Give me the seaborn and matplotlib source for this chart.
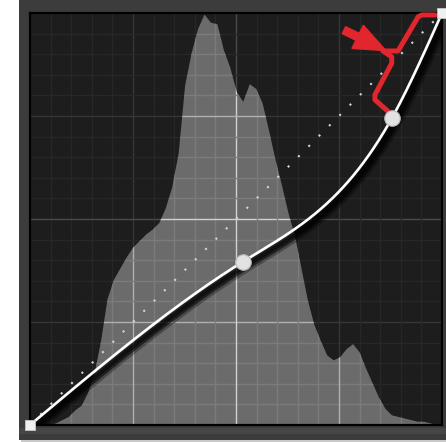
import numpy as np
import matplotlib
matplotlib.use("Agg")
import matplotlib.pyplot as plt
import matplotlib.patches as mpatches
import matplotlib.patheffects as pe
import pandas as pd
import seaborn as sns

sns.set_style("dark")

# Luminance histogram: one height per 4-level bin, scaled to the 0-255 graph height
hist_levels = list(range(0, 256, 4))
hist_heights = [0, 0, 0, 0, 1, 3, 5, 9, 12, 20, 32, 52, 78, 90, 97, 104,
                110, 114, 118, 121, 125, 134, 147, 168, 210, 230, 245, 254, 249, 248, 232, 221,
                206, 200, 211, 208, 199, 182, 164, 148, 131, 117, 97, 77, 62, 52, 43, 40,
                42, 47, 50, 45, 35, 26, 17, 10, 6, 5, 4, 3, 2, 2, 1, 0]

# Curve control points (input -> output)
curve_in = [0, 131.8, 223.9, 255]
curve_out = [0, 101.1, 189.8, 255]

# Red callout bracket and arrow
bracket_x = [221.8, 213.5, 213.5, 223.9, 223.9, 218.5, 227.8, 240.3, 242.6, 250.7]
bracket_y = [193.9, 201.3, 204.4, 223.9, 227.8, 231.5, 231.5, 252.7, 253.8, 253.8]
arrow_tail = (194.3, 244.4)
arrow_tip = (220.3, 231.7)

RED = "#e2262e"
W, H = 446, 442


def natural_spline(x, y, xq):
    x = np.asarray(x, float)
    y = np.asarray(y, float)
    n = len(x)
    h = np.diff(x)
    A = np.zeros((n, n))
    b = np.zeros(n)
    A[0, 0] = A[-1, -1] = 1.0
    for i in range(1, n - 1):
        A[i, i - 1] = h[i - 1]
        A[i, i] = 2 * (h[i - 1] + h[i])
        A[i, i + 1] = h[i]
        b[i] = 6 * ((y[i + 1] - y[i]) / h[i] - (y[i] - y[i - 1]) / h[i - 1])
    M = np.linalg.solve(A, b)
    out = np.empty_like(xq)
    for k, t in enumerate(xq):
        i = min(max(np.searchsorted(x, t) - 1, 0), n - 2)
        a, c = x[i], x[i + 1]
        hi = h[i]
        out[k] = (M[i] * (c - t) ** 3 / (6 * hi) + M[i + 1] * (t - a) ** 3 / (6 * hi)
                  + (y[i] / hi - M[i] * hi / 6) * (c - t)
                  + (y[i + 1] / hi - M[i + 1] * hi / 6) * (t - a))
    return out


fig = plt.figure(figsize=(W / 100, H / 100), dpi=100, facecolor="white")

# Panel frame around the graph (behind the axes)
for (x0, y0, w, h, c) in [(21, 0, W, 3, "#c9c9c9"),
                          (19, 2, W, 440, "#3c3c3c"),
                          (19, 8, W, 6, "#464646")]:
    fig.patches.append(mpatches.Rectangle((x0 / W, y0 / H), w / W, h / H,
                                          transform=fig.transFigure, facecolor=c,
                                          edgecolor="none", zorder=-5))

ax = fig.add_axes([30 / W, 17 / H, 412 / W, 412 / H])
ax.set_zorder(2)
ax.set_facecolor("#1d1d1d")
ax.set_xlim(0, 255)
ax.set_ylim(0, 255)
ax.set_xticks([])
ax.set_yticks([])
for s in ax.spines.values():
    s.set_visible(True)
    s.set_color("black")
    s.set_linewidth(1.6)

# Histogram
hx = np.r_[hist_levels[0], hist_levels, 255]
hy = np.r_[0, hist_heights, 0]
hist_patch = mpatches.Polygon(np.column_stack([hx, hy]), closed=True,
                              facecolor="#6b6b6b", edgecolor="none", zorder=1)
ax.add_patch(hist_patch)

# Grid: 4 major divisions, each split into 5
grid_pos = np.linspace(0, 255, 21)[1:-1]
for i, g in enumerate(grid_pos, start=1):
    major = i % 5 == 0
    center = i == 10
    dark_c = "#4a4a4a" if center else ("#363636" if major else "#272727")
    lite_c = "#d2d2d2" if center else ("#b0b0b0" if major else "#7b7b7b")
    for axline in (ax.axvline, ax.axhline):
        axline(g, color=dark_c, lw=1.0, zorder=0.5)
        ln = axline(g, color=lite_c, lw=1.0, zorder=1.5)
        ln.set_clip_path(hist_patch)

# Reference diagonal
ax.plot([0, 255], [0, 255], color="#d4d4d4", lw=1.5, ls=(0, (1, 6)), zorder=2)

# Adjusted tone curve with its drop shadow
xs = np.linspace(0, 255, 400)
curve_df = pd.DataFrame({"input": xs, "output": natural_spline(curve_in, curve_out, xs)})
sns.lineplot(data=curve_df, x="input", y="output", ax=ax, color="white", lw=1.9,
             estimator=None, sort=False, zorder=3,
             path_effects=[pe.SimpleLineShadow(offset=(2.8, -2.8), shadow_color="black",
                                               alpha=0.3, linewidth=9),
                           pe.SimpleLineShadow(offset=(2.8, -2.8), shadow_color="black",
                                               alpha=0.55, linewidth=5.5),
                           pe.SimpleLineShadow(offset=(2.6, -2.6), shadow_color="black",
                                               alpha=0.5, linewidth=3),
                           pe.Normal()])

# Callout
ax.plot(bracket_x, bracket_y, color=RED, lw=3.6, solid_joinstyle="round",
        solid_capstyle="round", zorder=4, clip_on=False)
dx = arrow_tip[0] - arrow_tail[0]
dy = arrow_tip[1] - arrow_tail[1]
ax.add_patch(mpatches.FancyArrow(arrow_tail[0], arrow_tail[1], dx, dy, width=4.8,
                                 head_width=16.0, head_length=19.5,
                                 length_includes_head=True, color=RED, zorder=4))

# Control points
sns.scatterplot(x=curve_in[1:3], y=curve_out[1:3], ax=ax, s=125, color="#e2e2e2",
                edgecolor="#b8b8b8", linewidth=0.8, zorder=5, clip_on=False)
sns.scatterplot(x=[curve_in[0], curve_in[-1]], y=[curve_out[0], curve_out[-1]], ax=ax,
                marker="s", s=55, color="#f0f0f0", edgecolor="#c8c8c8", linewidth=0.6,
                zorder=5, clip_on=False)
ax.set_xlabel("")
ax.set_ylabel("")

fig.savefig("out.png", dpi=100, facecolor="white")
